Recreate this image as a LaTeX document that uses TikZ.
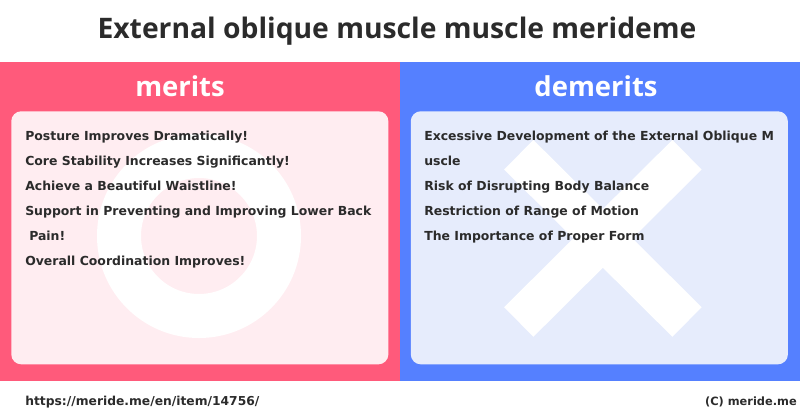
\documentclass[tikz,border=0pt]{standalone}
\usepackage{fontspec}
\setmainfont{DejaVu Sans}
\newfontfamily\headfont{Open Sans}

\definecolor{meritred}{HTML}{FF5A7B}
\definecolor{demeritblue}{HTML}{5580FF}
\definecolor{meritcard}{HTML}{FFEDF1}
\definecolor{demeritcard}{HTML}{E6ECFC}
\definecolor{inktext}{HTML}{2B2B2B}

\tikzstyle{title} = [anchor=base, inner sep=0, text=inktext, font=\headfont\bfseries\fontsize{20.1pt}{24pt}\selectfont]
\tikzstyle{heading} = [anchor=base, inner sep=0, text=white, font=\headfont\bfseries\fontsize{19.5pt}{24pt}\selectfont]
\tikzstyle{panel} = [minimum width=10cm, minimum height=7.975cm, inner sep=0, anchor=north west]
\tikzstyle{card} = [minimum width=9.425cm, minimum height=6.325cm, inner sep=0, anchor=north west, rounded corners=0.25cm]
\tikzstyle{item} = [anchor=base west, inner sep=0, text=inktext, font=\bfseries\fontsize{8.85pt}{12pt}\selectfont]
\tikzstyle{foot} = [inner sep=0, text=inktext, font=\bfseries\fontsize{8.75pt}{12pt}\selectfont]

\begin{document}
\begin{tikzpicture}[x=0.025cm, y=-0.025cm]
        \useasboundingbox (0,0) rectangle (800,418);

        \node [title] (title) at (397,39) {External oblique muscle muscle merideme};

        \node [panel, fill=meritred]    (meritpanel)   at (0,62)   {};
        \node [panel, fill=demeritblue] (demeritpanel) at (400,62) {};
        \node [card, fill=meritcard]    (meritcard)    at (11,111)  {};
        \node [card, fill=demeritcard]  (demeritcard)  at (410.5,111) {};

        \node [heading] (merits)   at (180,96.5) {merits};
        \node [heading] (demerits) at (596,96.5) {demerits};

        % big marks behind the lists
        \draw [white, line width=1.1cm] (199,236) circle (80);
        \draw [white, line width=1.04cm] (518.75,154.75) -- (687,322);
        \draw [white, line width=1.04cm] (687,154.75) -- (518.75,322);

        \node [item] (merit1)  at (25,140.5) {Posture Improves Dramatically!};
        \node [item] (merit2)  at (25,165.5) {Core Stability Increases Significantly!};
        \node [item] (merit3)  at (25,190.5) {Achieve a Beautiful Waistline!};
        \node [item] (merit4a) at (25,215.5) {Support in Preventing and Improving Lower Back};
        \node [item] (merit4b) at (29,240.5) {Pain!};
        \node [item] (merit5)  at (25,265.5) {Overall Coordination Improves!};

        \node [item] (demerit1a) at (424,140.5) {Excessive Development of the External Oblique M};
        \node [item] (demerit1b) at (424,165.5) {uscle};
        \node [item] (demerit2)  at (424,190.5) {Risk of Disrupting Body Balance};
        \node [item] (demerit3)  at (424,215.5) {Restriction of Range of Motion};
        \node [item] (demerit4)  at (424,240.5) {The Importance of Proper Form};

        \node [foot, anchor=base west] (url)  at (25,405.5)  {https://meride.me/en/item/14756/};
        \node [foot, anchor=base east, font=\bfseries\fontsize{8.1pt}{12pt}\selectfont] (copy) at (797,405.5) {(C) meride.me};
      \end{tikzpicture}
\end{document}
